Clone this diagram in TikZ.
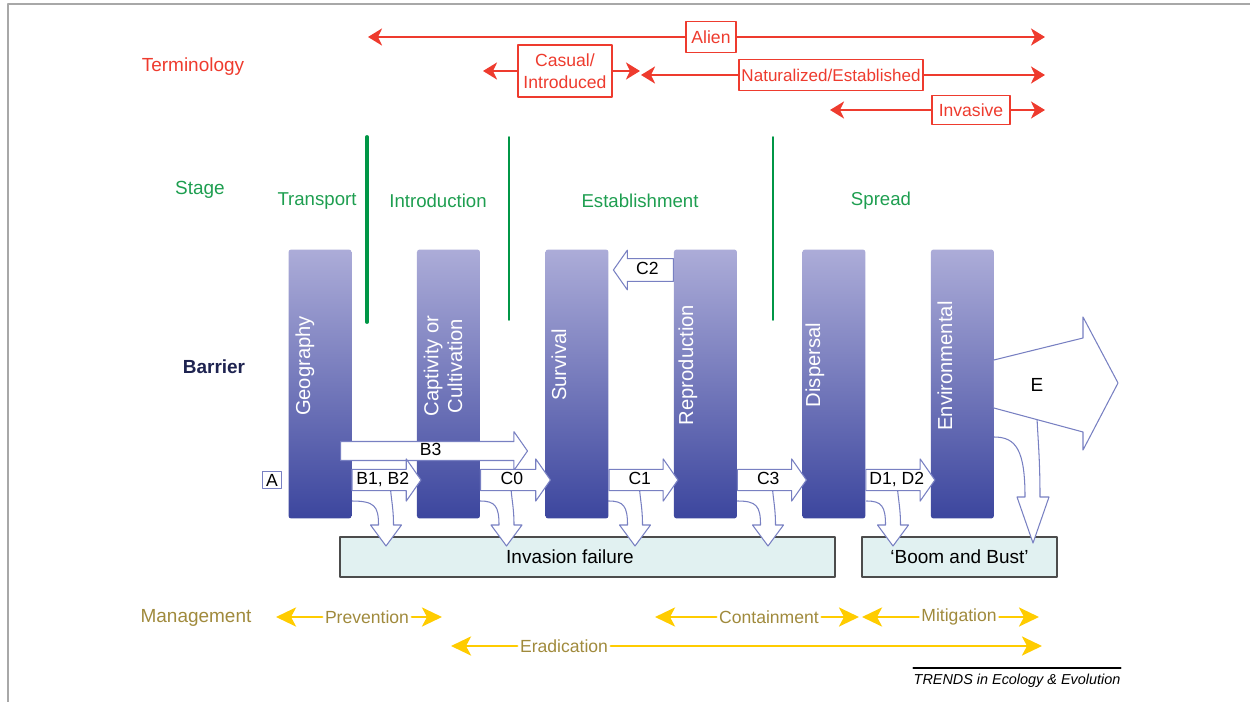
\documentclass[tikz,border=0pt]{standalone}
\usepackage{fontspec}
\setmainfont{Liberation Sans}
\usepackage{tikz}
\usetikzlibrary{arrows.meta, positioning, shapes.arrows, calc}
\definecolor{TrRed}{RGB}{238, 59, 46}
\definecolor{TrGreen}{RGB}{30, 158, 80}
\definecolor{TrLine}{RGB}{0, 150, 70}
\definecolor{TrNavy}{RGB}{30, 35, 80}
\definecolor{TrGold}{RGB}{160, 138, 60}
\definecolor{TrYellow}{RGB}{255, 204, 0}
\definecolor{BarTop}{RGB}{172, 172, 216}
\definecolor{BarBottom}{RGB}{60, 70, 158}
\definecolor{ArrowEdge}{RGB}{120, 128, 194}
\definecolor{FailFill}{RGB}{225, 241, 241}
\definecolor{FrameGray}{RGB}{168, 168, 168}
\tikzset{every node/.style={font=\fontsize{10.8}{12}\selectfont}, every path/.style={line cap=round, line join=round}, >={Stealth[length=2.8mm, width=3.4mm, inset=0.8mm]}}

\begin{document}
\begin{tikzpicture}[x=0.02cm, y=-0.02cm,
    term/.style={draw=TrRed, line width=1.1pt, fill=white, text=TrRed, font=\fontsize{10}{12.5}\selectfont, inner xsep=3pt, inner ysep=3pt, minimum height=0.62cm, align=center},
    termline/.style={draw=TrRed, line width=1.7pt},
    stage/.style={text=TrGreen, font=\fontsize{10.6}{12}\selectfont},
    divider/.style={draw=TrLine, line width=1.1pt},
    bar/.style={rounded corners=1.5pt, top color=BarTop, bottom color=BarBottom, minimum width=1.26cm, minimum height=5.38cm, inner sep=0pt, outer sep=0pt},
    barlabel/.style={rotate=90, text=white, font=\fontsize{11.5}{12.5}\selectfont, align=center},
    pass/.style={single arrow, draw=ArrowEdge, fill=white, line width=0.6pt, single arrow tip angle=110, single arrow head extend=6pt, inner xsep=1pt, inner ysep=1pt, text height=7.2pt, text depth=2.2pt, font=\fontsize{10}{11}\selectfont, anchor=tail},
    hollow/.style={draw=ArrowEdge, fill=white, line width=0.6pt},
    fail/.style={draw=black!70, fill=FailFill, line width=0.8pt, minimum height=0.8cm},
    manage/.style={text=TrGold, inner sep=1.5pt, font=\fontsize{10}{12}\selectfont},
    mline/.style={draw=TrYellow, line width=1.7pt, >={Stealth[length=4mm, width=3.8mm, inset=1mm]}},
    failarrow/.pic={
        \path[hollow] (0,0) .. controls (15+#1,0) and (19+#1,5) .. (19+#1,24) -- (11+#1,24) -- (26.5+#1,45) -- (42+#1,24) -- (34+#1,24) .. controls (34+#1,8) and (32+#1,0) .. (31+#1,-12);
    }
]
\useasboundingbox (0,0) rectangle (1250,702);
\draw[FrameGray, line width=1.5pt] (8,702) -- (8,4) -- (1250,4);

% row headings
\node[text=TrRed] (termhead) at (193,67) {Terminology};
\node[stage, font=\fontsize{10.8}{12}\selectfont] (stagehead) at (200,190) {Stage};
\node[text=TrNavy, font=\bfseries\fontsize{10.8}{12}\selectfont] (barrier) at (214,367) {Barrier};
\node[text=TrGold] (mgmt) at (196,618) {Management};

% terminology
\node[term] (alien) at (711,37) {Alien};
\coordinate (alienL) at (368,37);
\coordinate (alienR) at (1045,37);
\draw[termline, ->] (alien) -- (alienL);
\draw[termline, ->] (alien) -- (alienR);

\node[term, inner ysep=5pt] (casual) at (565,71) {Casual/\\Introduced};
\coordinate (casualL) at (483,71);
\coordinate (casualR) at (640,71);
\draw[termline, ->] (casual) -- (casualL);
\draw[termline, ->] (casual) -- (casualR);

\node[term, inner xsep=1.5pt, font=\fontsize{9.7}{12}\selectfont] (natural) at (831,75) {Naturalized/Established};
\coordinate (naturalL) at (641,75);
\coordinate (naturalR) at (1045,75);
\draw[termline, ->] (natural) -- (naturalL);
\draw[termline, ->] (natural) -- (naturalR);

\node[term, inner xsep=4pt, minimum height=0.58cm] (invasive) at (971,110) {Invasive};
\coordinate (invasiveL) at (830,110);
\coordinate (invasiveR) at (1045,110);
\draw[termline, ->] (invasive) -- (invasiveL);
\draw[termline, ->] (invasive) -- (invasiveR);

% stages
\node[stage] (transport) at (317,201) {Transport};
\node[stage] (introduction) at (438,201) {Introduction};
\node[stage] (establishment) at (640,201) {Establishment};
\node[stage] (spread) at (881,201) {Spread};
\draw[divider, line width=2.2pt] (367,137) -- (367,322);
\draw[divider] (509,137) -- (509,320);
\draw[divider] (773,137) -- (773,320);

% outcome boxes
\node[fail, minimum width=9.9cm, label={[xshift=-0.35cm]center:Invasion failure}] (failure) at (587.5,557) {};
\node[fail, minimum width=3.9cm] (boom) at (959.5,557) {`Boom and Bust'};

% drops into the boxes
\coordinate (bandrow) at (0,480);
\coordinate (backrow) at (0,270);
\pic at (351.5,501) {failarrow=8};
\pic at (480,501) {failarrow=0};
\pic at (608.5,501) {failarrow=0};
\pic at (737.5,501) {failarrow=4};
\pic at (866.5,501) {failarrow=0};
\path[hollow] (994,437) .. controls (1016,437) and (1025,450) .. (1025,497) -- (1017,497) -- (1033,543) -- (1049,497) -- (1040,497) .. controls (1040,460) and (1038,440) .. (1037,418);

% barriers
\node[bar] (geo) at (320,384) {};
\node[bar, right=1.31cm of geo] (capt) {};
\node[bar, right=1.31cm of capt] (surv) {};
\node[bar, right=1.31cm of surv] (repr) {};
\node[bar, right=1.31cm of repr] (disp) {};
\node[bar, right=1.31cm of disp] (env) {};
\node[barlabel] (geolab) at (305,366) {Geography};
\node[barlabel, font=\fontsize{11.5}{13.5}\selectfont] (captlab) at (443,366) {Captivity or\\Cultivation};
\node[barlabel] (survlab) at (559,365) {Survival};
\node[barlabel] (reprlab) at (688,365) {Reproduction};
\node[barlabel] (displab) at (815,365) {Dispersal};
\node[barlabel] (envlab) at (945,366) {Environmental};

% passages between barriers
\node[pass, minimum height=3.74cm, text height=6.6pt, text depth=1.6pt, single arrow head extend=5.6pt] (b3) at (340,451) {B3};
\node[pass, minimum height=1.38cm] (b12) at (geo.east |- bandrow) {B1, B2};
\node[pass, minimum height=1.4cm] (c0) at (capt.east |- bandrow) {C0};
\node[pass, minimum height=1.38cm] (c1) at (surv.east |- bandrow) {C1};
\node[pass, minimum height=1.38cm] (c3) at (repr.east |- bandrow) {C3};
\node[pass, minimum height=1.38cm] (d12) at (disp.east |- bandrow) {D1, D2};
\node[pass, shape border rotate=180, minimum height=1.2cm, text height=7.8pt, text depth=2.6pt, single arrow head extend=4.8pt] (c2) at (repr.west |- backrow) {C2};
\node[draw=ArrowEdge, fill=white, line width=0.6pt, inner xsep=2pt, inner ysep=1.5pt, font=\fontsize{10}{11}\selectfont] (a) at (272,480) {A};

% escape
\path[hollow] (env.east |- 0,360) -- (1083,338) -- (1083,317) -- (1118,383) -- (1083,450) -- (1083,432) -- (env.east |- 0,408);
\node (e) at (1037,385) {E};

% management
\node[manage] (prevention) at (367,617) {Prevention};
\coordinate (preventionL) at (276,617);
\coordinate (preventionR) at (442,617);
\draw[mline, ->] (prevention) -- (preventionL);
\draw[mline, ->] (prevention) -- (preventionR);

\node[manage] (containment) at (769,617) {Containment};
\coordinate (containmentL) at (655,617);
\coordinate (containmentR) at (859,617);
\draw[mline, ->] (containment) -- (containmentL);
\draw[mline, ->] (containment) -- (containmentR);

\node[manage] (mitigation) at (959,617) {Mitigation};
\coordinate (mitigationL) at (862,617);
\coordinate (mitigationR) at (1039,617);
\draw[mline, ->] (mitigation) -- (mitigationL);
\draw[mline, ->] (mitigation) -- (mitigationR);

\node[manage] (eradication) at (564,646) {Eradication};
\coordinate (eradicationL) at (451,646);
\coordinate (eradicationR) at (1042,646);
\draw[mline, ->] (eradication) -- (eradicationL);
\draw[mline, ->] (eradication) -- (eradicationR);

% source
\node[inner xsep=0pt, font=\itshape\fontsize{8.2}{10}\selectfont] (trends) at (1017,681) {TRENDS in Ecology \& Evolution};
\draw[line width=1.1pt] (trends.north west) -- (trends.north east);
\end{tikzpicture}
\end{document}
